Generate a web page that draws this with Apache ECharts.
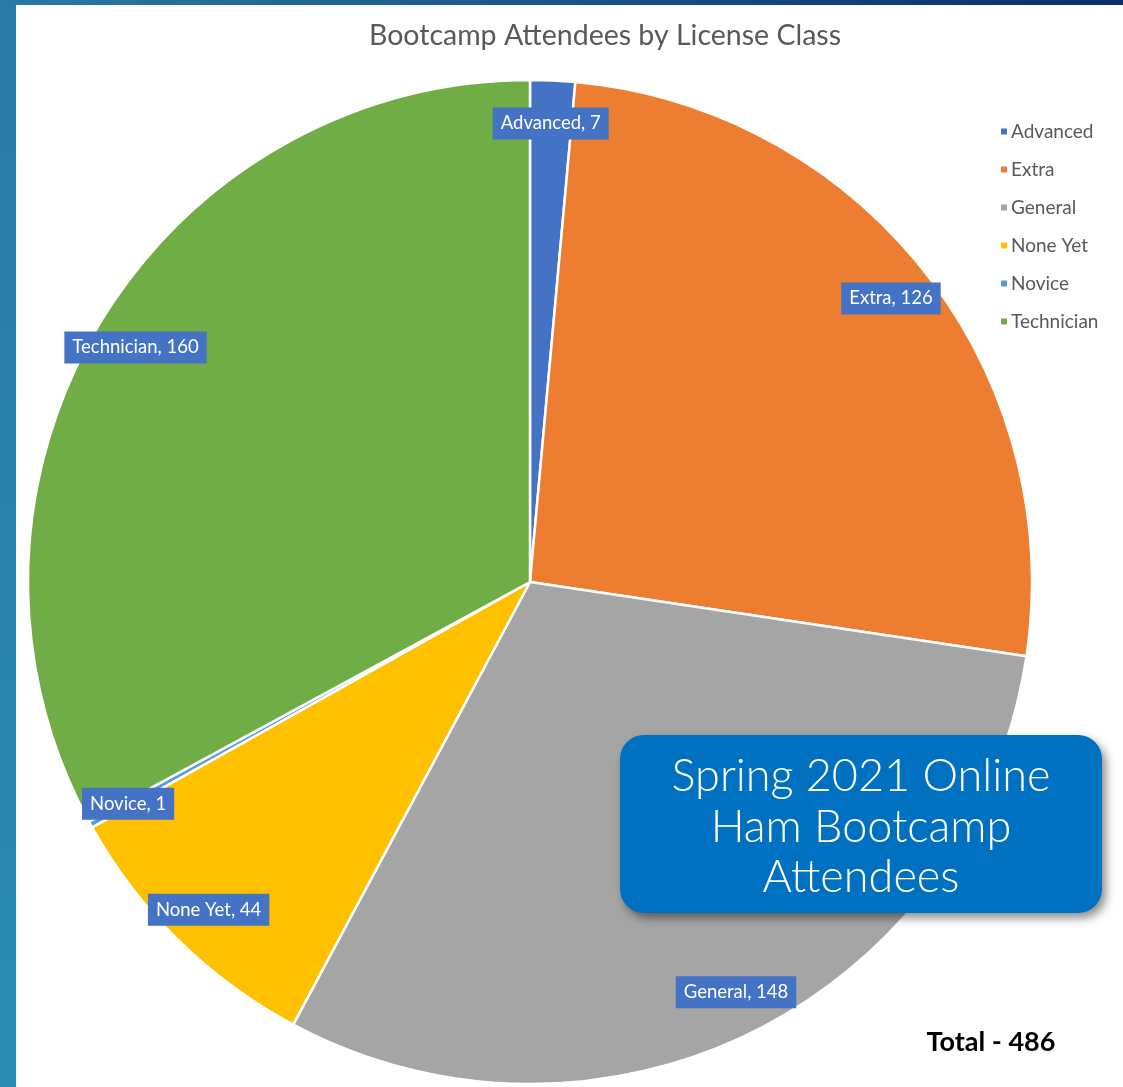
<!DOCTYPE html>
<html>
<head>
<meta charset="utf-8">
<script src="https://cdn.jsdelivr.net/npm/echarts@6/dist/echarts.min.js"></script>
<style>
html,body{margin:0;padding:0;background:#fff;}
#chart{width:1123px;height:1087px;}
</style>
</head>
<body>
<div id="chart"></div>
<script>
const categories = ['Advanced', 'Extra', 'General', 'None Yet', 'Novice', 'Technician'];
const values = [7, 126, 148, 44, 1, 160];
const colors = ['#4472C4', '#ED7D31', '#A5A5A5', '#FFC000', '#5B9BD5', '#70AD47'];
const titleText = 'Bootcamp Attendees by License Class';
const boxLines = ['Spring 2021 Online', 'Ham Bootcamp', 'Attendees'];
const totalText = 'Total - 486';

const chart = echarts.init(document.getElementById('chart'));
const pieData = categories.map((c, i) => ({ name: c, value: values[i], itemStyle: { color: colors[i] } }));
const labelData = categories.map((c, i) => ({ name: c, value: values[i] }));

const option = {
  animation: false,
  backgroundColor: '#ffffff',
  title: {
    text: titleText,
    left: 600, top: 16, textAlign: 'center',
    textStyle: { fontFamily: 'Lato, sans-serif', fontSize: 28.5, fontWeight: 'normal', color: '#595959' }
  },
  legend: {
    orient: 'vertical',
    left: 994, top: 117,
    itemWidth: 8, itemHeight: 8, itemGap: 19,
    icon: 'rect',
    data: categories,
    textStyle: { fontFamily: 'Lato, sans-serif', fontSize: 19, color: '#595959', padding: [0, 0, 0, -2] }
  },
  series: [
    {
      type: 'pie',
      center: [530, 582],
      radius: [0, 502],
      startAngle: 90,
      clockwise: true,
      data: pieData,
      label: { show: false },
      labelLine: { show: false },
      itemStyle: { borderColor: '#ffffff', borderWidth: 2.5 },
      emphasis: { disabled: true },
      z: 1
    },
    {
      type: 'pie',
      center: [530, 582],
      radius: [410, 502],
      startAngle: 90,
      clockwise: true,
      data: labelData,
      silent: true,
      itemStyle: { color: 'rgba(0,0,0,0)' },
      label: {
        show: true,
        position: 'inside',
        formatter: '{b}, {c}',
        backgroundColor: '#4472C4',
        color: '#ffffff',
        fontFamily: 'Lato, sans-serif',
        fontSize: 18.5,
        padding: [7, 8, 6, 8],
        rotate: 0
      },
      labelLine: { show: false },
      emphasis: { disabled: true },
      z: 3
    }
  ],
  graphic: [
    { type: 'rect', left: 0, top: 0, shape: { width: 16, height: 1087 }, style: { fill: new echarts.graphic.LinearGradient(0, 0, 0, 1, [{ offset: 0, color: '#2a7aa6' }, { offset: 1, color: '#2a8cb2' }]) }, z: 10 },
    { type: 'rect', left: 0, top: 0, shape: { width: 1123, height: 5 }, style: { fill: new echarts.graphic.LinearGradient(0, 0, 1, 0, [{ offset: 0, color: '#2a7aa6' }, { offset: 1, color: '#0b2d6b' }]) }, z: 10 },
    { type: 'rect', x: 620, y: 735, shape: { width: 482, height: 178, r: 24 }, style: { fill: '#0070C0', shadowBlur: 10, shadowOffsetX: 4, shadowOffsetY: 5, shadowColor: 'rgba(0,0,0,0.45)' }, z: 20 },
    { type: 'text', x: 861, y: 776, style: { text: boxLines[0], fill: '#ffffff', font: '300 45px Lato, sans-serif', align: 'center', verticalAlign: 'middle' }, z: 21 },
    { type: 'text', x: 861, y: 827, style: { text: boxLines[1], fill: '#ffffff', font: '300 45px Lato, sans-serif', align: 'center', verticalAlign: 'middle' }, z: 21 },
    { type: 'text', x: 861, y: 877, style: { text: boxLines[2], fill: '#ffffff', font: '300 45px Lato, sans-serif', align: 'center', verticalAlign: 'middle' }, z: 21 },
    { type: 'text', x: 991, y: 1042, style: { text: totalText, fill: '#000000', font: 'bold 27px Lato, sans-serif', align: 'center', verticalAlign: 'middle' }, z: 21 }
  ]
};
chart.setOption(option);
</script>
</body>
</html>
